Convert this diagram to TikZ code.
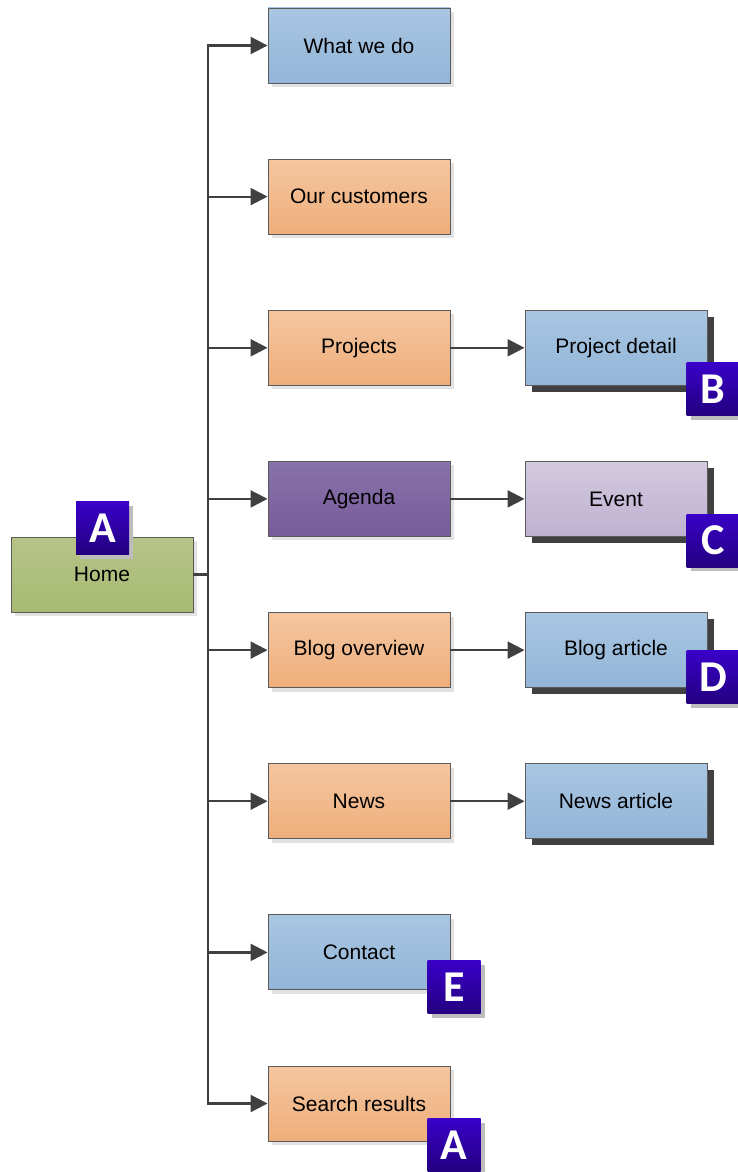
\documentclass[tikz,border=0pt]{standalone}
\usepackage{fontspec}
\setmainfont{Liberation Sans}
\newfontfamily\badgefont{Carlito}
\usetikzlibrary{arrows.meta,shadows}
\definecolor{bluetop}{HTML}{A9C6E2}
\definecolor{bluebot}{HTML}{93B5D7}
\definecolor{orangetop}{HTML}{F5C6A0}
\definecolor{orangebot}{HTML}{EEAE7B}
\definecolor{purpletop}{HTML}{8872AA}
\definecolor{purplebot}{HTML}{775C9B}
\definecolor{lilactop}{HTML}{D2C9DF}
\definecolor{lilacbot}{HTML}{BFB2D1}
\definecolor{greentop}{HTML}{B6C488}
\definecolor{greenbot}{HTML}{A8BA73}
\definecolor{badgetop}{HTML}{3A00C8}
\definecolor{badgebot}{HTML}{230080}
\definecolor{bordergray}{HTML}{5A5A5A}
\definecolor{linegray}{HTML}{404040}
\definecolor{shadowlight}{HTML}{E2E2E2}
\definecolor{shadowdark}{HTML}{404040}
\definecolor{badgeshadow}{HTML}{BDBDBD}
\tikzset{
  page/.style={rectangle, minimum width=182pt, minimum height=75pt, inner sep=0pt,
    draw=bordergray, line width=0.9pt, text=black, font=\fontsize{21}{25}\selectfont},
  lightshadow/.style={drop shadow={shadow xshift=4pt, shadow yshift=-4pt, fill=shadowlight, opacity=1}},
  darkshadow/.style={drop shadow={shadow xshift=6.5pt, shadow yshift=-6.5pt, fill=shadowdark, opacity=1}},
  bluebox/.style={page, top color=bluetop, bottom color=bluebot},
  orangebox/.style={page, top color=orangetop, bottom color=orangebot},
  purplebox/.style={page, top color=purpletop, bottom color=purplebot},
  lilacbox/.style={page, top color=lilactop, bottom color=lilacbot},
  greenbox/.style={page, top color=greentop, bottom color=greenbot},
  badge/.style={rectangle, minimum size=53pt, inner sep=0pt, top color=badgetop, bottom color=badgebot,
    text=white, font=\badgefont\bfseries\fontsize{44}{44}\selectfont,
    drop shadow={shadow xshift=4pt, shadow yshift=-4pt, fill=badgeshadow, opacity=1}},
  conn/.style={draw=linegray, line width=2.4pt},
  arr/.style={draw=linegray, line width=2.2pt, -{Triangle[length=17pt, width=17pt]}},
}
\begin{document}
\begin{tikzpicture}[x=1pt,y=-1pt]
\useasboundingbox (0,0) rectangle (738,1172);
% column 2
\node[bluebox, lightshadow]   (wwd)  at (359,45.5)   {What we do};
\node[orangebox, lightshadow] (cust) at (359,196.6)  {Our customers};
\node[orangebox, lightshadow] (proj) at (359,347.8)  {Projects};
\node[purplebox, lightshadow] (agen) at (359,498.9)  {Agenda};
\node[orangebox, lightshadow] (blog) at (359,650.1)  {Blog overview};
\node[orangebox, lightshadow] (news) at (359,801.2)  {News};
\node[bluebox, lightshadow]   (cont) at (359,952.4)  {Contact};
\node[orangebox, lightshadow] (srch) at (359,1103.5) {Search results};
% column 3
\node[bluebox, darkshadow]  (pdet) at (616,347.8) {Project detail};
\node[lilacbox, darkshadow] (evnt) at (616,498.9) {Event};
\node[bluebox, darkshadow]  (bart) at (616,650.1) {Blog article};
\node[bluebox, darkshadow]  (nart) at (616,801.2) {News article};
% home
\node[greenbox, lightshadow] (home) at (102,574.5) {Home};
% connectors
\coordinate (hub) at (208,574.5);
\coordinate (top) at (208,45.5);
\coordinate (bot) at (208,1103.5);
\draw[conn] (home.east) -- (hub);
\draw[conn] (top) -- (bot);
\foreach \n in {wwd,cust,proj,agen,blog,news,cont,srch}{
  \draw[arr] (hub) |- (\n.west);
}
\draw[arr] (proj.east) -- (pdet.west);
\draw[arr] (agen.east) -- (evnt.west);
\draw[arr] (blog.east) -- (bart.west);
\draw[arr] (news.east) -- (nart.west);
% badges
\node[badge] (bA1) at (102.5,528) {A};
\node[badge] (bB)  at (713,389)   {B};
\node[badge] (bC)  at (713,540.5) {C};
\node[badge] (bD)  at (713,677)   {D};
\node[badge] (bE)  at (454,987)   {E};
\node[badge] (bA2) at (454,1145)  {A};
\end{tikzpicture}
\end{document}
